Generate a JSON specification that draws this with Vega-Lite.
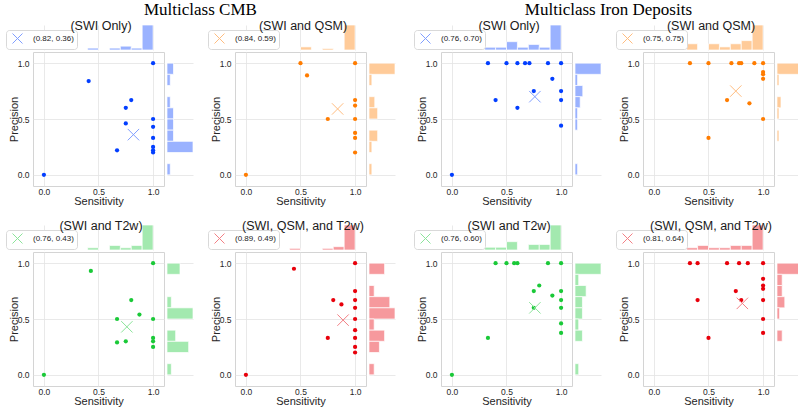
{
"$schema":"https://vega.github.io/schema/vega-lite/v6.json",
"padding":{"left":5,"top":0,"right":0,"bottom":0},
"background":"white",
"config":{
 "view":{"stroke":"#d4d4d4","strokeWidth":1},
 "axis":{"labelFont":"Liberation Sans","labelFontSize":8.5,"labelColor":"#262626","titleFont":"Liberation Sans","titleFontSize":11,"titleFontWeight":"normal","titleColor":"#262626","gridColor":"#e3e3e3","gridWidth":0.8,"ticks":false,"domain":false,"grid":true},
 "axisX":{"labelPadding":1,"titlePadding":0},
 "axisY":{"labelPadding":4,"titlePadding":-2},
 "title":{"font":"Liberation Sans","fontSize":12.5,"fontWeight":"normal","color":"#1a1a1a","anchor":"middle","frame":"group","baseline":"alphabetic","offset":-2.5,"dx":2.5,"dy":5},
 "legend":{"fillColor":"white","strokeColor":"#d9d9d9","cornerRadius":3,"padding":3,"labelFont":"Liberation Sans","labelFontSize":8,"labelColor":"#222222","symbolType":"M-1,-1L1,1M-1,1L1,-1","symbolSize":100,"symbolStrokeWidth":1,"symbolOffset":3,"labelOffset":10,"symbolOpacity":1,"symbolFillColor":"transparent"}
},
"datasets":{
 "pts":[
  {"p":"c1","s":0,"pr":0},{"p":"c1","s":0.41,"pr":0.84},{"p":"c1","s":0.67,"pr":0.22},{"p":"c1","s":0.75,"pr":0.46},{"p":"c1","s":0.75,"pr":0.6},{"p":"c1","s":0.8,"pr":0.67},{"p":"c1","s":1,"pr":1},{"p":"c1","s":1,"pr":0.5},{"p":"c1","s":1,"pr":0.43},{"p":"c1","s":1,"pr":0.33},{"p":"c1","s":1,"pr":0.25},{"p":"c1","s":1,"pr":0.22},{"p":"c1","s":1,"pr":0.2},
  {"p":"c2","s":0,"pr":0},{"p":"c2","s":0.5,"pr":1},{"p":"c2","s":0.56,"pr":0.89},{"p":"c2","s":0.75,"pr":0.5},{"p":"c2","s":1,"pr":1},{"p":"c2","s":1,"pr":0.67},{"p":"c2","s":1,"pr":0.62},{"p":"c2","s":1,"pr":0.5},{"p":"c2","s":1,"pr":0.375},{"p":"c2","s":1,"pr":0.33},{"p":"c2","s":1,"pr":0.2},
  {"p":"c3","s":0,"pr":0},{"p":"c3","s":0.43,"pr":0.93},{"p":"c3","s":0.8,"pr":0.67},{"p":"c3","s":0.875,"pr":0.54},{"p":"c3","s":0.67,"pr":0.5},{"p":"c3","s":0.67,"pr":0.29},{"p":"c3","s":0.75,"pr":0.3},{"p":"c3","s":1,"pr":1},{"p":"c3","s":1,"pr":0.5},{"p":"c3","s":1,"pr":0.33},{"p":"c3","s":1,"pr":0.3},{"p":"c3","s":1,"pr":0.25},
  {"p":"c4","s":0,"pr":0},{"p":"c4","s":0.44,"pr":0.95},{"p":"c4","s":0.8,"pr":0.67},{"p":"c4","s":0.875,"pr":0.63},{"p":"c4","s":0.75,"pr":0.33},{"p":"c4","s":1,"pr":1},{"p":"c4","s":1,"pr":0.75},{"p":"c4","s":1,"pr":0.67},{"p":"c4","s":1,"pr":0.6},{"p":"c4","s":1,"pr":0.5},{"p":"c4","s":1,"pr":0.4},{"p":"c4","s":1,"pr":0.33},{"p":"c4","s":1,"pr":0.25},{"p":"c4","s":1,"pr":0.2},
  {"p":"i1","s":0,"pr":0},{"p":"i1","s":0.33,"pr":1},{"p":"i1","s":0.5,"pr":1},{"p":"i1","s":0.6,"pr":1},{"p":"i1","s":0.67,"pr":1},{"p":"i1","s":0.71,"pr":1},{"p":"i1","s":0.88,"pr":1},{"p":"i1","s":1,"pr":1},{"p":"i1","s":0.92,"pr":0.86},{"p":"i1","s":0.75,"pr":0.75},{"p":"i1","s":0.4,"pr":0.67},{"p":"i1","s":0.6,"pr":0.6},{"p":"i1","s":1,"pr":0.75},{"p":"i1","s":1,"pr":0.67},{"p":"i1","s":1,"pr":0.44},
  {"p":"i2","s":0.33,"pr":1},{"p":"i2","s":0.5,"pr":1},{"p":"i2","s":0.71,"pr":1},{"p":"i2","s":0.78,"pr":1},{"p":"i2","s":0.8,"pr":1},{"p":"i2","s":0.92,"pr":1},{"p":"i2","s":1,"pr":1},{"p":"i2","s":1,"pr":0.92},{"p":"i2","s":1,"pr":0.9},{"p":"i2","s":1,"pr":0.86},{"p":"i2","s":0.67,"pr":0.67},{"p":"i2","s":0.875,"pr":0.64},{"p":"i2","s":1,"pr":0.5},{"p":"i2","s":0.5,"pr":0.33},
  {"p":"i3","s":0,"pr":0},{"p":"i3","s":0.33,"pr":0.33},{"p":"i3","s":0.4,"pr":1},{"p":"i3","s":0.5,"pr":1},{"p":"i3","s":0.57,"pr":1},{"p":"i3","s":0.6,"pr":1},{"p":"i3","s":0.88,"pr":1},{"p":"i3","s":1,"pr":1},{"p":"i3","s":0.8,"pr":0.8},{"p":"i3","s":0.75,"pr":0.75},{"p":"i3","s":0.75,"pr":0.6},{"p":"i3","s":0.92,"pr":0.71},{"p":"i3","s":1,"pr":0.75},{"p":"i3","s":1,"pr":0.67},{"p":"i3","s":1,"pr":0.6},{"p":"i3","s":1,"pr":0.46},{"p":"i3","s":1,"pr":0.375},
  {"p":"i4","s":0.33,"pr":1},{"p":"i4","s":0.4,"pr":1},{"p":"i4","s":0.67,"pr":1},{"p":"i4","s":0.78,"pr":1},{"p":"i4","s":0.86,"pr":1},{"p":"i4","s":1,"pr":1},{"p":"i4","s":1,"pr":0.86},{"p":"i4","s":1,"pr":0.8},{"p":"i4","s":1,"pr":0.77},{"p":"i4","s":0.75,"pr":0.75},{"p":"i4","s":0.4,"pr":0.67},{"p":"i4","s":0.8,"pr":0.67},{"p":"i4","s":1,"pr":0.67},{"p":"i4","s":1,"pr":0.5},{"p":"i4","s":1,"pr":0.375},{"p":"i4","s":0.5,"pr":0.33}
 ],
 "means":[
  {"p":"c1","s":0.82,"pr":0.36,"label":"(0.82, 0.36)"},
  {"p":"c2","s":0.84,"pr":0.59,"label":"(0.84, 0.59)"},
  {"p":"c3","s":0.76,"pr":0.43,"label":"(0.76, 0.43)"},
  {"p":"c4","s":0.89,"pr":0.49,"label":"(0.89, 0.49)"},
  {"p":"i1","s":0.76,"pr":0.70,"label":"(0.76, 0.70)"},
  {"p":"i2","s":0.75,"pr":0.75,"label":"(0.75, 0.75)"},
  {"p":"i3","s":0.76,"pr":0.60,"label":"(0.76, 0.60)"},
  {"p":"i4","s":0.81,"pr":0.64,"label":"(0.81, 0.64)"}
 ],
 "tophist":[
  {"p":"c1","b0":0,"b1":0.1,"n":1},{"p":"c1","b0":0.4,"b1":0.5,"n":1},{"p":"c1","b0":0.6,"b1":0.7,"n":1},{"p":"c1","b0":0.7,"b1":0.8,"n":2},{"p":"c1","b0":0.8,"b1":0.9,"n":1},{"p":"c1","b0":0.9,"b1":1,"n":13},
  {"p":"c2","b0":0,"b1":0.1,"n":1},{"p":"c2","b0":0.5,"b1":0.6,"n":2},{"p":"c2","b0":0.7,"b1":0.8,"n":1},{"p":"c2","b0":0.9,"b1":1,"n":16},
  {"p":"c3","b0":0,"b1":0.1,"n":1},{"p":"c3","b0":0.4,"b1":0.5,"n":1},{"p":"c3","b0":0.6,"b1":0.7,"n":2},{"p":"c3","b0":0.7,"b1":0.8,"n":1},{"p":"c3","b0":0.8,"b1":0.9,"n":2},{"p":"c3","b0":0.9,"b1":1,"n":11},
  {"p":"c4","b0":0,"b1":0.1,"n":1},{"p":"c4","b0":0.4,"b1":0.5,"n":1},{"p":"c4","b0":0.7,"b1":0.8,"n":1},{"p":"c4","b0":0.8,"b1":0.9,"n":2},{"p":"c4","b0":0.9,"b1":1,"n":15},
  {"p":"i1","b0":0,"b1":0.1,"n":1},{"p":"i1","b0":0.3,"b1":0.4,"n":1},{"p":"i1","b0":0.4,"b1":0.5,"n":1},{"p":"i1","b0":0.5,"b1":0.6,"n":3},{"p":"i1","b0":0.6,"b1":0.7,"n":1},{"p":"i1","b0":0.7,"b1":0.8,"n":2},{"p":"i1","b0":0.8,"b1":0.9,"n":1},{"p":"i1","b0":0.9,"b1":1,"n":9},
  {"p":"i2","b0":0.3,"b1":0.4,"n":2},{"p":"i2","b0":0.5,"b1":0.6,"n":2},{"p":"i2","b0":0.6,"b1":0.7,"n":1},{"p":"i2","b0":0.7,"b1":0.8,"n":2},{"p":"i2","b0":0.8,"b1":0.9,"n":3},{"p":"i2","b0":0.9,"b1":1,"n":8},
  {"p":"i3","b0":0,"b1":0.1,"n":1},{"p":"i3","b0":0.3,"b1":0.4,"n":1},{"p":"i3","b0":0.4,"b1":0.5,"n":1},{"p":"i3","b0":0.5,"b1":0.6,"n":3},{"p":"i3","b0":0.7,"b1":0.8,"n":2},{"p":"i3","b0":0.8,"b1":0.9,"n":2},{"p":"i3","b0":0.9,"b1":1,"n":9},
  {"p":"i4","b0":0.3,"b1":0.4,"n":1},{"p":"i4","b0":0.4,"b1":0.5,"n":2},{"p":"i4","b0":0.5,"b1":0.6,"n":1},{"p":"i4","b0":0.6,"b1":0.7,"n":1},{"p":"i4","b0":0.7,"b1":0.8,"n":2},{"p":"i4","b0":0.8,"b1":0.9,"n":2},{"p":"i4","b0":0.9,"b1":1,"n":11}
 ],
 "righthist":[
  {"p":"c1","b0":0.9,"b1":1,"n":2},{"p":"c1","b0":0.8,"b1":0.9,"n":1},{"p":"c1","b0":0.6,"b1":0.7,"n":1},{"p":"c1","b0":0.5,"b1":0.6,"n":2},{"p":"c1","b0":0.4,"b1":0.5,"n":2},{"p":"c1","b0":0.3,"b1":0.4,"n":2},{"p":"c1","b0":0.2,"b1":0.3,"n":8},{"p":"c1","b0":0,"b1":0.1,"n":1},
  {"p":"c2","b0":0.9,"b1":1,"n":9},{"p":"c2","b0":0.8,"b1":0.9,"n":1},{"p":"c2","b0":0.6,"b1":0.7,"n":2},{"p":"c2","b0":0.5,"b1":0.6,"n":3},{"p":"c2","b0":0.3,"b1":0.4,"n":3},{"p":"c2","b0":0.2,"b1":0.3,"n":1},{"p":"c2","b0":0,"b1":0.1,"n":1},
  {"p":"c3","b0":0.9,"b1":1,"n":3},{"p":"c3","b0":0.6,"b1":0.7,"n":1},{"p":"c3","b0":0.5,"b1":0.6,"n":6},{"p":"c3","b0":0.3,"b1":0.4,"n":2},{"p":"c3","b0":0.2,"b1":0.3,"n":5},{"p":"c3","b0":0,"b1":0.1,"n":1},
  {"p":"c4","b0":0.9,"b1":1,"n":3},{"p":"c4","b0":0.7,"b1":0.8,"n":1},{"p":"c4","b0":0.6,"b1":0.7,"n":4},{"p":"c4","b0":0.5,"b1":0.6,"n":5},{"p":"c4","b0":0.4,"b1":0.5,"n":1},{"p":"c4","b0":0.3,"b1":0.4,"n":3},{"p":"c4","b0":0.2,"b1":0.3,"n":2},{"p":"c4","b0":0,"b1":0.1,"n":1},
  {"p":"i1","b0":0.9,"b1":1,"n":10},{"p":"i1","b0":0.8,"b1":0.9,"n":1},{"p":"i1","b0":0.7,"b1":0.8,"n":3},{"p":"i1","b0":0.6,"b1":0.7,"n":2},{"p":"i1","b0":0.5,"b1":0.6,"n":1},{"p":"i1","b0":0.4,"b1":0.5,"n":1},{"p":"i1","b0":0,"b1":0.1,"n":1},
  {"p":"i2","b0":0.9,"b1":1,"n":13},{"p":"i2","b0":0.8,"b1":0.9,"n":1},{"p":"i2","b0":0.6,"b1":0.7,"n":2},{"p":"i2","b0":0.5,"b1":0.6,"n":1},{"p":"i2","b0":0.3,"b1":0.4,"n":1},
  {"p":"i3","b0":0.9,"b1":1,"n":7},{"p":"i3","b0":0.8,"b1":0.9,"n":1},{"p":"i3","b0":0.7,"b1":0.8,"n":3},{"p":"i3","b0":0.6,"b1":0.7,"n":2},{"p":"i3","b0":0.5,"b1":0.6,"n":2},{"p":"i3","b0":0.4,"b1":0.5,"n":1},{"p":"i3","b0":0.3,"b1":0.4,"n":2},{"p":"i3","b0":0,"b1":0.1,"n":1},
  {"p":"i4","b0":0.9,"b1":1,"n":10},{"p":"i4","b0":0.8,"b1":0.9,"n":2},{"p":"i4","b0":0.7,"b1":0.8,"n":2},{"p":"i4","b0":0.6,"b1":0.7,"n":3},{"p":"i4","b0":0.5,"b1":0.6,"n":1},{"p":"i4","b0":0.3,"b1":0.4,"n":2}
 ]
},
"hconcat":[
 {"title":{"text":"Multiclass CMB","font":"Liberation Serif","fontSize":17,"color":"#000000","frame":"bounds","offset":1,"dx":0,"dy":0},
  "spacing":12,
  "resolve":{"scale":{"stroke":"independent"},"legend":{"stroke":"independent"}},
  "vconcat":[
   {"columns":4,"spacing":{"row":0,"column":1},"align":"each",
    "resolve":{"scale":{"stroke":"independent"},"legend":{"stroke":"independent"}},
    "concat":[
     {"width":131,"height":25,"view":{"stroke":null},"title":{"text":"(SWI Only)"},"layer":[
      {"data":{"name":"tophist"},"transform":[{"filter":"datum.p==='c1'"}],"mark":{"type":"rect","color":"#9ab2ff","stroke":"white","strokeWidth":0.7},"encoding":{"x":{"field":"b0","type":"quantitative","scale":{"domain":[-0.1,1.1],"nice":false,"zero":false},"axis":{"values":[0,0.5,1],"labels":false,"title":null}},"x2":{"field":"b1"},"y":{"field":"n","type":"quantitative","scale":{"nice":false,"zero":true},"axis":null},"y2":{"datum":0}}},
      {"data":{"name":"means"},"transform":[{"filter":"datum.p==='c1'"}],"mark":{"type":"point","shape":"M-1,-1L1,1M-1,1L1,-1","filled":false,"size":0},"encoding":{"stroke":{"field":"label","type":"nominal","scale":{"range":["#809eff"]},"legend":{"title":null,"orient":"none","legendX":-27,"legendY":5}}}}]},
     {"width":39,"height":25,"view":{"stroke":null},"data":{"values":[]},"mark":"point"},
     {"width":131,"height":25,"view":{"stroke":null},"title":{"text":"(SWI and QSM)"},"layer":[
      {"data":{"name":"tophist"},"transform":[{"filter":"datum.p==='c2'"}],"mark":{"type":"rect","color":"#ffcb99","stroke":"white","strokeWidth":0.7},"encoding":{"x":{"field":"b0","type":"quantitative","scale":{"domain":[-0.1,1.1],"nice":false,"zero":false},"axis":{"values":[0,0.5,1],"labels":false,"title":null}},"x2":{"field":"b1"},"y":{"field":"n","type":"quantitative","scale":{"nice":false,"zero":true},"axis":null},"y2":{"datum":0}}},
      {"data":{"name":"means"},"transform":[{"filter":"datum.p==='c2'"}],"mark":{"type":"point","shape":"M-1,-1L1,1M-1,1L1,-1","filled":false,"size":0},"encoding":{"stroke":{"field":"label","type":"nominal","scale":{"range":["#ffbd80"]},"legend":{"title":null,"orient":"none","legendX":-27,"legendY":5}}}}]},
     {"width":26,"height":25,"view":{"stroke":null},"data":{"values":[]},"mark":"point"},
     {"width":131,"height":134,"layer":[
      {"data":{"name":"pts"},"transform":[{"filter":"datum.p==='c1'"}],"mark":{"type":"circle","size":18,"color":"#023eff","opacity":1},"encoding":{"x":{"field":"s","type":"quantitative","scale":{"domain":[-0.1,1.1],"nice":false,"zero":false},"axis":{"values":[0,0.5,1],"format":".1f","title":"Sensitivity"}},"y":{"field":"pr","type":"quantitative","scale":{"domain":[-0.1,1.1],"nice":false,"zero":false},"axis":{"values":[0,0.5,1],"format":".1f","title":"Precision"}}}},
      {"data":{"name":"means"},"transform":[{"filter":"datum.p==='c1'"}],"mark":{"type":"point","shape":"M-1,-1L1,1M-1,1L1,-1","filled":false,"size":130,"strokeWidth":1,"color":"#809eff","opacity":1},"encoding":{"x":{"field":"s","type":"quantitative"},"y":{"field":"pr","type":"quantitative"}}}]},
     {"width":26,"height":134,"view":{"stroke":null},"data":{"name":"righthist"},"transform":[{"filter":"datum.p==='c1'"}],"mark":{"type":"rect","color":"#9ab2ff","stroke":"white","strokeWidth":0.7},"encoding":{"y":{"field":"b0","type":"quantitative","scale":{"domain":[-0.1,1.1],"nice":false,"zero":false},"axis":{"values":[0,0.5,1],"labels":false,"title":null}},"y2":{"field":"b1"},"x":{"field":"n","type":"quantitative","scale":{"nice":false,"zero":true},"axis":null},"x2":{"datum":0}}},
     {"width":131,"height":134,"layer":[
      {"data":{"name":"pts"},"transform":[{"filter":"datum.p==='c2'"}],"mark":{"type":"circle","size":18,"color":"#ff7c00","opacity":1},"encoding":{"x":{"field":"s","type":"quantitative","scale":{"domain":[-0.1,1.1],"nice":false,"zero":false},"axis":{"values":[0,0.5,1],"format":".1f","title":"Sensitivity"}},"y":{"field":"pr","type":"quantitative","scale":{"domain":[-0.1,1.1],"nice":false,"zero":false},"axis":{"values":[0,0.5,1],"format":".1f","title":"Precision"}}}},
      {"data":{"name":"means"},"transform":[{"filter":"datum.p==='c2'"}],"mark":{"type":"point","shape":"M-1,-1L1,1M-1,1L1,-1","filled":false,"size":130,"strokeWidth":1,"color":"#ffbd80","opacity":1},"encoding":{"x":{"field":"s","type":"quantitative"},"y":{"field":"pr","type":"quantitative"}}}]},
     {"width":26,"height":134,"view":{"stroke":null},"data":{"name":"righthist"},"transform":[{"filter":"datum.p==='c2'"}],"mark":{"type":"rect","color":"#ffcb99","stroke":"white","strokeWidth":0.7},"encoding":{"y":{"field":"b0","type":"quantitative","scale":{"domain":[-0.1,1.1],"nice":false,"zero":false},"axis":{"values":[0,0.5,1],"labels":false,"title":null}},"y2":{"field":"b1"},"x":{"field":"n","type":"quantitative","scale":{"nice":false,"zero":true},"axis":null},"x2":{"datum":0}}}
    ]},
   {"columns":4,"spacing":{"row":0,"column":1},"align":"each",
    "resolve":{"scale":{"stroke":"independent"},"legend":{"stroke":"independent"}},
    "concat":[
     {"width":131,"height":25,"view":{"stroke":null},"title":{"text":"(SWI and T2w)"},"layer":[
      {"data":{"name":"tophist"},"transform":[{"filter":"datum.p==='c3'"}],"mark":{"type":"rect","color":"#a3e9af","stroke":"white","strokeWidth":0.7},"encoding":{"x":{"field":"b0","type":"quantitative","scale":{"domain":[-0.1,1.1],"nice":false,"zero":false},"axis":{"values":[0,0.5,1],"labels":false,"title":null}},"x2":{"field":"b1"},"y":{"field":"n","type":"quantitative","scale":{"nice":false,"zero":true},"axis":null},"y2":{"datum":0}}},
      {"data":{"name":"means"},"transform":[{"filter":"datum.p==='c3'"}],"mark":{"type":"point","shape":"M-1,-1L1,1M-1,1L1,-1","filled":false,"size":0},"encoding":{"stroke":{"field":"label","type":"nominal","scale":{"range":["#8ce49b"]},"legend":{"title":null,"orient":"none","legendX":-27,"legendY":5}}}}]},
     {"width":39,"height":25,"view":{"stroke":null},"data":{"values":[]},"mark":"point"},
     {"width":131,"height":25,"view":{"stroke":null},"title":{"text":"(SWI, QSM, and T2w)"},"layer":[
      {"data":{"name":"tophist"},"transform":[{"filter":"datum.p==='c4'"}],"mark":{"type":"rect","color":"#f6999d","stroke":"white","strokeWidth":0.7},"encoding":{"x":{"field":"b0","type":"quantitative","scale":{"domain":[-0.1,1.1],"nice":false,"zero":false},"axis":{"values":[0,0.5,1],"labels":false,"title":null}},"x2":{"field":"b1"},"y":{"field":"n","type":"quantitative","scale":{"nice":false,"zero":true},"axis":null},"y2":{"datum":0}}},
      {"data":{"name":"means"},"transform":[{"filter":"datum.p==='c4'"}],"mark":{"type":"point","shape":"M-1,-1L1,1M-1,1L1,-1","filled":false,"size":0},"encoding":{"stroke":{"field":"label","type":"nominal","scale":{"range":["#f38085"]},"legend":{"title":null,"orient":"none","legendX":-27,"legendY":5}}}}]},
     {"width":26,"height":25,"view":{"stroke":null},"data":{"values":[]},"mark":"point"},
     {"width":131,"height":134,"layer":[
      {"data":{"name":"pts"},"transform":[{"filter":"datum.p==='c3'"}],"mark":{"type":"circle","size":18,"color":"#1ac938","opacity":1},"encoding":{"x":{"field":"s","type":"quantitative","scale":{"domain":[-0.1,1.1],"nice":false,"zero":false},"axis":{"values":[0,0.5,1],"format":".1f","title":"Sensitivity"}},"y":{"field":"pr","type":"quantitative","scale":{"domain":[-0.1,1.1],"nice":false,"zero":false},"axis":{"values":[0,0.5,1],"format":".1f","title":"Precision"}}}},
      {"data":{"name":"means"},"transform":[{"filter":"datum.p==='c3'"}],"mark":{"type":"point","shape":"M-1,-1L1,1M-1,1L1,-1","filled":false,"size":130,"strokeWidth":1,"color":"#8ce49b","opacity":1},"encoding":{"x":{"field":"s","type":"quantitative"},"y":{"field":"pr","type":"quantitative"}}}]},
     {"width":26,"height":134,"view":{"stroke":null},"data":{"name":"righthist"},"transform":[{"filter":"datum.p==='c3'"}],"mark":{"type":"rect","color":"#a3e9af","stroke":"white","strokeWidth":0.7},"encoding":{"y":{"field":"b0","type":"quantitative","scale":{"domain":[-0.1,1.1],"nice":false,"zero":false},"axis":{"values":[0,0.5,1],"labels":false,"title":null}},"y2":{"field":"b1"},"x":{"field":"n","type":"quantitative","scale":{"nice":false,"zero":true},"axis":null},"x2":{"datum":0}}},
     {"width":131,"height":134,"layer":[
      {"data":{"name":"pts"},"transform":[{"filter":"datum.p==='c4'"}],"mark":{"type":"circle","size":18,"color":"#e8000b","opacity":1},"encoding":{"x":{"field":"s","type":"quantitative","scale":{"domain":[-0.1,1.1],"nice":false,"zero":false},"axis":{"values":[0,0.5,1],"format":".1f","title":"Sensitivity"}},"y":{"field":"pr","type":"quantitative","scale":{"domain":[-0.1,1.1],"nice":false,"zero":false},"axis":{"values":[0,0.5,1],"format":".1f","title":"Precision"}}}},
      {"data":{"name":"means"},"transform":[{"filter":"datum.p==='c4'"}],"mark":{"type":"point","shape":"M-1,-1L1,1M-1,1L1,-1","filled":false,"size":130,"strokeWidth":1,"color":"#f38085","opacity":1},"encoding":{"x":{"field":"s","type":"quantitative"},"y":{"field":"pr","type":"quantitative"}}}]},
     {"width":26,"height":134,"view":{"stroke":null},"data":{"name":"righthist"},"transform":[{"filter":"datum.p==='c4'"}],"mark":{"type":"rect","color":"#f6999d","stroke":"white","strokeWidth":0.7},"encoding":{"y":{"field":"b0","type":"quantitative","scale":{"domain":[-0.1,1.1],"nice":false,"zero":false},"axis":{"values":[0,0.5,1],"labels":false,"title":null}},"y2":{"field":"b1"},"x":{"field":"n","type":"quantitative","scale":{"nice":false,"zero":true},"axis":null},"x2":{"datum":0}}}
    ]}
  ]},
 {"title":{"text":"Multiclass Iron Deposits","font":"Liberation Serif","fontSize":17,"color":"#000000","frame":"bounds","offset":1,"dx":0,"dy":0},
  "spacing":12,
  "resolve":{"scale":{"stroke":"independent"},"legend":{"stroke":"independent"}},
  "vconcat":[
   {"columns":4,"spacing":{"row":0,"column":1},"align":"each",
    "resolve":{"scale":{"stroke":"independent"},"legend":{"stroke":"independent"}},
    "concat":[
     {"width":131,"height":25,"view":{"stroke":null},"title":{"text":"(SWI Only)"},"layer":[
      {"data":{"name":"tophist"},"transform":[{"filter":"datum.p==='i1'"}],"mark":{"type":"rect","color":"#9ab2ff","stroke":"white","strokeWidth":0.7},"encoding":{"x":{"field":"b0","type":"quantitative","scale":{"domain":[-0.1,1.1],"nice":false,"zero":false},"axis":{"values":[0,0.5,1],"labels":false,"title":null}},"x2":{"field":"b1"},"y":{"field":"n","type":"quantitative","scale":{"nice":false,"zero":true},"axis":null},"y2":{"datum":0}}},
      {"data":{"name":"means"},"transform":[{"filter":"datum.p==='i1'"}],"mark":{"type":"point","shape":"M-1,-1L1,1M-1,1L1,-1","filled":false,"size":0},"encoding":{"stroke":{"field":"label","type":"nominal","scale":{"range":["#809eff"]},"legend":{"title":null,"orient":"none","legendX":-27,"legendY":5}}}}]},
     {"width":39,"height":25,"view":{"stroke":null},"data":{"values":[]},"mark":"point"},
     {"width":131,"height":25,"view":{"stroke":null},"title":{"text":"(SWI and QSM)"},"layer":[
      {"data":{"name":"tophist"},"transform":[{"filter":"datum.p==='i2'"}],"mark":{"type":"rect","color":"#ffcb99","stroke":"white","strokeWidth":0.7},"encoding":{"x":{"field":"b0","type":"quantitative","scale":{"domain":[-0.1,1.1],"nice":false,"zero":false},"axis":{"values":[0,0.5,1],"labels":false,"title":null}},"x2":{"field":"b1"},"y":{"field":"n","type":"quantitative","scale":{"nice":false,"zero":true},"axis":null},"y2":{"datum":0}}},
      {"data":{"name":"means"},"transform":[{"filter":"datum.p==='i2'"}],"mark":{"type":"point","shape":"M-1,-1L1,1M-1,1L1,-1","filled":false,"size":0},"encoding":{"stroke":{"field":"label","type":"nominal","scale":{"range":["#ffbd80"]},"legend":{"title":null,"orient":"none","legendX":-27,"legendY":5}}}}]},
     {"width":26,"height":25,"view":{"stroke":null},"data":{"values":[]},"mark":"point"},
     {"width":131,"height":134,"layer":[
      {"data":{"name":"pts"},"transform":[{"filter":"datum.p==='i1'"}],"mark":{"type":"circle","size":18,"color":"#023eff","opacity":1},"encoding":{"x":{"field":"s","type":"quantitative","scale":{"domain":[-0.1,1.1],"nice":false,"zero":false},"axis":{"values":[0,0.5,1],"format":".1f","title":"Sensitivity"}},"y":{"field":"pr","type":"quantitative","scale":{"domain":[-0.1,1.1],"nice":false,"zero":false},"axis":{"values":[0,0.5,1],"format":".1f","title":"Precision"}}}},
      {"data":{"name":"means"},"transform":[{"filter":"datum.p==='i1'"}],"mark":{"type":"point","shape":"M-1,-1L1,1M-1,1L1,-1","filled":false,"size":130,"strokeWidth":1,"color":"#809eff","opacity":1},"encoding":{"x":{"field":"s","type":"quantitative"},"y":{"field":"pr","type":"quantitative"}}}]},
     {"width":26,"height":134,"view":{"stroke":null},"data":{"name":"righthist"},"transform":[{"filter":"datum.p==='i1'"}],"mark":{"type":"rect","color":"#9ab2ff","stroke":"white","strokeWidth":0.7},"encoding":{"y":{"field":"b0","type":"quantitative","scale":{"domain":[-0.1,1.1],"nice":false,"zero":false},"axis":{"values":[0,0.5,1],"labels":false,"title":null}},"y2":{"field":"b1"},"x":{"field":"n","type":"quantitative","scale":{"nice":false,"zero":true},"axis":null},"x2":{"datum":0}}},
     {"width":131,"height":134,"layer":[
      {"data":{"name":"pts"},"transform":[{"filter":"datum.p==='i2'"}],"mark":{"type":"circle","size":18,"color":"#ff7c00","opacity":1},"encoding":{"x":{"field":"s","type":"quantitative","scale":{"domain":[-0.1,1.1],"nice":false,"zero":false},"axis":{"values":[0,0.5,1],"format":".1f","title":"Sensitivity"}},"y":{"field":"pr","type":"quantitative","scale":{"domain":[-0.1,1.1],"nice":false,"zero":false},"axis":{"values":[0,0.5,1],"format":".1f","title":"Precision"}}}},
      {"data":{"name":"means"},"transform":[{"filter":"datum.p==='i2'"}],"mark":{"type":"point","shape":"M-1,-1L1,1M-1,1L1,-1","filled":false,"size":130,"strokeWidth":1,"color":"#ffbd80","opacity":1},"encoding":{"x":{"field":"s","type":"quantitative"},"y":{"field":"pr","type":"quantitative"}}}]},
     {"width":26,"height":134,"view":{"stroke":null},"data":{"name":"righthist"},"transform":[{"filter":"datum.p==='i2'"}],"mark":{"type":"rect","color":"#ffcb99","stroke":"white","strokeWidth":0.7},"encoding":{"y":{"field":"b0","type":"quantitative","scale":{"domain":[-0.1,1.1],"nice":false,"zero":false},"axis":{"values":[0,0.5,1],"labels":false,"title":null}},"y2":{"field":"b1"},"x":{"field":"n","type":"quantitative","scale":{"nice":false,"zero":true},"axis":null},"x2":{"datum":0}}}
    ]},
   {"columns":4,"spacing":{"row":0,"column":1},"align":"each",
    "resolve":{"scale":{"stroke":"independent"},"legend":{"stroke":"independent"}},
    "concat":[
     {"width":131,"height":25,"view":{"stroke":null},"title":{"text":"(SWI and T2w)"},"layer":[
      {"data":{"name":"tophist"},"transform":[{"filter":"datum.p==='i3'"}],"mark":{"type":"rect","color":"#a3e9af","stroke":"white","strokeWidth":0.7},"encoding":{"x":{"field":"b0","type":"quantitative","scale":{"domain":[-0.1,1.1],"nice":false,"zero":false},"axis":{"values":[0,0.5,1],"labels":false,"title":null}},"x2":{"field":"b1"},"y":{"field":"n","type":"quantitative","scale":{"nice":false,"zero":true},"axis":null},"y2":{"datum":0}}},
      {"data":{"name":"means"},"transform":[{"filter":"datum.p==='i3'"}],"mark":{"type":"point","shape":"M-1,-1L1,1M-1,1L1,-1","filled":false,"size":0},"encoding":{"stroke":{"field":"label","type":"nominal","scale":{"range":["#8ce49b"]},"legend":{"title":null,"orient":"none","legendX":-27,"legendY":5}}}}]},
     {"width":39,"height":25,"view":{"stroke":null},"data":{"values":[]},"mark":"point"},
     {"width":131,"height":25,"view":{"stroke":null},"title":{"text":"(SWI, QSM, and T2w)"},"layer":[
      {"data":{"name":"tophist"},"transform":[{"filter":"datum.p==='i4'"}],"mark":{"type":"rect","color":"#f6999d","stroke":"white","strokeWidth":0.7},"encoding":{"x":{"field":"b0","type":"quantitative","scale":{"domain":[-0.1,1.1],"nice":false,"zero":false},"axis":{"values":[0,0.5,1],"labels":false,"title":null}},"x2":{"field":"b1"},"y":{"field":"n","type":"quantitative","scale":{"nice":false,"zero":true},"axis":null},"y2":{"datum":0}}},
      {"data":{"name":"means"},"transform":[{"filter":"datum.p==='i4'"}],"mark":{"type":"point","shape":"M-1,-1L1,1M-1,1L1,-1","filled":false,"size":0},"encoding":{"stroke":{"field":"label","type":"nominal","scale":{"range":["#f38085"]},"legend":{"title":null,"orient":"none","legendX":-27,"legendY":5}}}}]},
     {"width":26,"height":25,"view":{"stroke":null},"data":{"values":[]},"mark":"point"},
     {"width":131,"height":134,"layer":[
      {"data":{"name":"pts"},"transform":[{"filter":"datum.p==='i3'"}],"mark":{"type":"circle","size":18,"color":"#1ac938","opacity":1},"encoding":{"x":{"field":"s","type":"quantitative","scale":{"domain":[-0.1,1.1],"nice":false,"zero":false},"axis":{"values":[0,0.5,1],"format":".1f","title":"Sensitivity"}},"y":{"field":"pr","type":"quantitative","scale":{"domain":[-0.1,1.1],"nice":false,"zero":false},"axis":{"values":[0,0.5,1],"format":".1f","title":"Precision"}}}},
      {"data":{"name":"means"},"transform":[{"filter":"datum.p==='i3'"}],"mark":{"type":"point","shape":"M-1,-1L1,1M-1,1L1,-1","filled":false,"size":130,"strokeWidth":1,"color":"#8ce49b","opacity":1},"encoding":{"x":{"field":"s","type":"quantitative"},"y":{"field":"pr","type":"quantitative"}}}]},
     {"width":26,"height":134,"view":{"stroke":null},"data":{"name":"righthist"},"transform":[{"filter":"datum.p==='i3'"}],"mark":{"type":"rect","color":"#a3e9af","stroke":"white","strokeWidth":0.7},"encoding":{"y":{"field":"b0","type":"quantitative","scale":{"domain":[-0.1,1.1],"nice":false,"zero":false},"axis":{"values":[0,0.5,1],"labels":false,"title":null}},"y2":{"field":"b1"},"x":{"field":"n","type":"quantitative","scale":{"nice":false,"zero":true},"axis":null},"x2":{"datum":0}}},
     {"width":131,"height":134,"layer":[
      {"data":{"name":"pts"},"transform":[{"filter":"datum.p==='i4'"}],"mark":{"type":"circle","size":18,"color":"#e8000b","opacity":1},"encoding":{"x":{"field":"s","type":"quantitative","scale":{"domain":[-0.1,1.1],"nice":false,"zero":false},"axis":{"values":[0,0.5,1],"format":".1f","title":"Sensitivity"}},"y":{"field":"pr","type":"quantitative","scale":{"domain":[-0.1,1.1],"nice":false,"zero":false},"axis":{"values":[0,0.5,1],"format":".1f","title":"Precision"}}}},
      {"data":{"name":"means"},"transform":[{"filter":"datum.p==='i4'"}],"mark":{"type":"point","shape":"M-1,-1L1,1M-1,1L1,-1","filled":false,"size":130,"strokeWidth":1,"color":"#f38085","opacity":1},"encoding":{"x":{"field":"s","type":"quantitative"},"y":{"field":"pr","type":"quantitative"}}}]},
     {"width":26,"height":134,"view":{"stroke":null},"data":{"name":"righthist"},"transform":[{"filter":"datum.p==='i4'"}],"mark":{"type":"rect","color":"#f6999d","stroke":"white","strokeWidth":0.7},"encoding":{"y":{"field":"b0","type":"quantitative","scale":{"domain":[-0.1,1.1],"nice":false,"zero":false},"axis":{"values":[0,0.5,1],"labels":false,"title":null}},"y2":{"field":"b1"},"x":{"field":"n","type":"quantitative","scale":{"nice":false,"zero":true},"axis":null},"x2":{"datum":0}}}
    ]}
  ]}
],
"spacing":17,
"resolve":{"scale":{"stroke":"independent"},"legend":{"stroke":"independent"}}
}
